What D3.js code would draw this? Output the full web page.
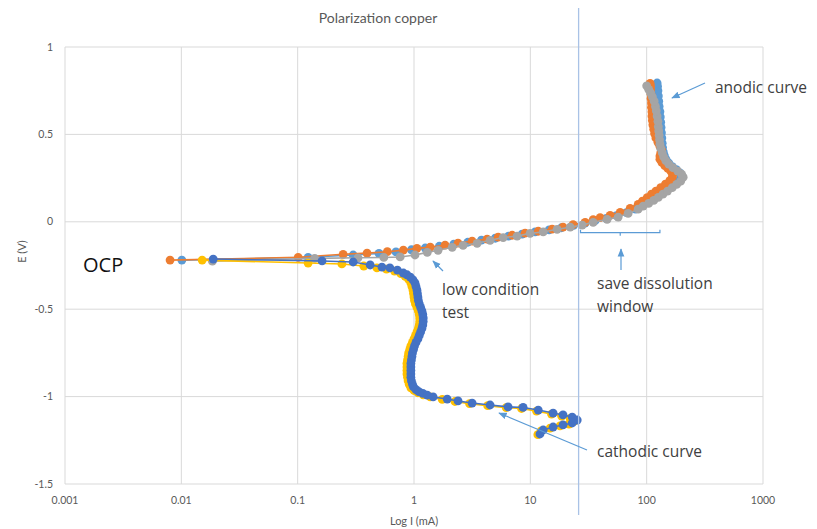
<!DOCTYPE html>
<meta charset="utf-8">
<style>
body { margin: 0; background: #fff; }
svg { font-family: Lato, "Open Sans", sans-serif; }
.grid line { stroke: #d9d9d9; stroke-width: 1px; }
.tick-label { fill: #595959; font-size: 10.5px; }
.axis-title { fill: #595959; font-size: 11px; }
.note { fill: #404040; font-size: 15.5px; font-family: "Open Sans", sans-serif; }
.pointer { stroke: #5b9bd5; stroke-width: 1.2px; fill: none; }
</style>
<body>
<script src="https://cdn.jsdelivr.net/npm/d3@7"></script>
<script>
// [current (mA), potential (V)]
var anodicOrange = [
  [0.0080,-0.219],[0.101,-0.203],[0.246,-0.186],[0.395,-0.179],[0.59,-0.171],[0.81,-0.162],
  [1.06,-0.152],[1.38,-0.145],[1.85,-0.134],[2.39,-0.122],[3.16,-0.111],[4.25,-0.099],
  [5.29,-0.088],[6.98,-0.077],[9.02,-0.065],[11.7,-0.054],[15.4,-0.042],[19.1,-0.031],
  [23.3,-0.016],[29.6,-0.003],[34.7,0.012],[39.8,0.024],[48.5,0.037],[59.2,0.054],
  [72.1,0.077],[84.5,0.100],[92,0.118],[101,0.138],[110,0.158],[120,0.176],[132,0.196],
  [145,0.216],[158,0.236],[166,0.255],[168,0.270],[162,0.288],[152,0.305],[143,0.322],
  [135,0.340],[130,0.358],[130,0.376],[132,0.394],[134,0.412],[130,0.432],[125,0.455],
  [120,0.480],[117,0.505],[115,0.530],[113,0.555],[112,0.580],[111,0.605],[111,0.630],
  [110,0.655],[110,0.680],[109,0.705],[109,0.730],[108,0.755],[108,0.775],[107,0.792]
];
var anodicBlue = [
  [0.0101,-0.219],[0.123,-0.203],[0.30,-0.190],[0.50,-0.181],[0.70,-0.172],[0.95,-0.160],
  [1.25,-0.150],[1.65,-0.140],[2.2,-0.128],[2.9,-0.117],[3.8,-0.105],[5.0,-0.094],
  [6.5,-0.082],[8.5,-0.070],[11.0,-0.058],[14.5,-0.046],[18.5,-0.034],[23.5,-0.021],
  [29.5,-0.008],[36,0.006],[45,0.020],[55,0.035],[67,0.053],[80,0.073],[92,0.095],
  [104,0.118],[117,0.140],[131,0.163],[147,0.186],[165,0.208],[182,0.228],[195,0.246],
  [200,0.262],[193,0.280],[180,0.298],[166,0.316],[155,0.336],[147,0.356],[142,0.378],
  [139,0.400],[137,0.425],[136,0.450],[135,0.480],[134,0.510],[133,0.540],[132,0.570],
  [131,0.600],[130,0.630],[128,0.660],[127,0.690],[126,0.720],[125,0.750],[124,0.775],[123,0.794]
];
var anodicGrey = [
  [0.0185,-0.225],[0.14,-0.209],[0.33,-0.206],[0.55,-0.204],[0.76,-0.201],[1.02,-0.190],
  [1.30,-0.175],[1.61,-0.163],[2.13,-0.146],[2.64,-0.135],[3.49,-0.123],[4.51,-0.106],
  [5.84,-0.090],[7.70,-0.082],[9.96,-0.066],[12.9,-0.058],[17.0,-0.043],[22.0,-0.031],
  [27.9,-0.019],[34.7,-0.003],[45.7,0.014],[56.9,0.027],[69.3,0.048],[84.5,0.072],
  [93.3,0.090],[104,0.105],[115,0.122],[126,0.140],[138,0.158],[151,0.176],[166,0.196],
  [181,0.214],[196,0.232],[206,0.255],[200,0.272],[185,0.290],[168,0.310],[155,0.330],
  [146,0.350],[140,0.372],[136,0.395],[132,0.420],[130,0.445],[129,0.470],[128,0.495],
  [127,0.520],[126,0.545],[125,0.575],[123,0.605],[121,0.635],[119,0.660],[116,0.690],
  [112,0.715],[108,0.738],[104,0.758],[100,0.778]
];
var cathodicYellow = [
  [0.0151,-0.219],[0.123,-0.236],[0.24,-0.241],[0.37,-0.253],[0.48,-0.264],[0.58,-0.271],
  [0.68,-0.282],[0.77,-0.297],[0.84,-0.312],[0.90,-0.330],[0.94,-0.350],[0.96,-0.370],
  [0.98,-0.390],[0.99,-0.410],[1.00,-0.430],[1.01,-0.450],[1.03,-0.470],[1.06,-0.490],
  [1.09,-0.510],[1.11,-0.530],[1.12,-0.550],[1.12,-0.570],[1.11,-0.590],[1.09,-0.610],
  [1.06,-0.630],[1.03,-0.650],[1.00,-0.670],[0.97,-0.690],[0.94,-0.710],[0.92,-0.730],
  [0.90,-0.750],[0.89,-0.770],[0.88,-0.790],[0.87,-0.810],[0.87,-0.830],[0.87,-0.850],
  [0.87,-0.870],[0.88,-0.890],[0.89,-0.910],[0.91,-0.930],[0.94,-0.950],[1.00,-0.965],
  [1.08,-0.978],[1.20,-0.990],[1.38,-1.002],[1.75,-1.016],[2.25,-1.028],[3.0,-1.040],
  [4.3,-1.052],[6.2,-1.063],[8.4,-1.068],[11.3,-1.083],[15.2,-1.100],[18.6,-1.112],
  [22.0,-1.125],[23.8,-1.140],[21.5,-1.157],[18.0,-1.168],[14.8,-1.180],[12.4,-1.196],[11.6,-1.218]
];
var cathodicBlue = [
  [0.0188,-0.213],[0.162,-0.224],[0.30,-0.230],[0.42,-0.247],[0.53,-0.259],[0.62,-0.264],
  [0.72,-0.276],[0.81,-0.293],[0.87,-0.303],[0.93,-0.316],[0.98,-0.332],[1.02,-0.350],
  [1.04,-0.370],[1.06,-0.390],[1.07,-0.410],[1.08,-0.430],[1.09,-0.450],[1.11,-0.470],
  [1.14,-0.490],[1.17,-0.510],[1.19,-0.530],[1.20,-0.550],[1.20,-0.570],[1.19,-0.590],
  [1.17,-0.610],[1.14,-0.630],[1.11,-0.650],[1.08,-0.670],[1.04,-0.690],[1.01,-0.710],
  [0.99,-0.730],[0.97,-0.750],[0.96,-0.770],[0.95,-0.790],[0.94,-0.810],[0.94,-0.830],
  [0.94,-0.850],[0.94,-0.870],[0.94,-0.890],[0.95,-0.910],[0.97,-0.930],[0.99,-0.945],
  [1.04,-0.960],[1.10,-0.972],[1.19,-0.982],[1.30,-0.992],[1.46,-1.002],[1.93,-1.014],
  [2.39,-1.025],[3.16,-1.037],[4.51,-1.048],[6.44,-1.059],[8.67,-1.062],[11.7,-1.077],
  [15.7,-1.094],[19.1,-1.105],[22.9,-1.117],[25.3,-1.134],[22.9,-1.151],[19.1,-1.162],
  [15.7,-1.174],[12.9,-1.191],[12.1,-1.214]
];

var xTicks = [0.001, 0.01, 0.1, 1, 10, 100, 1000];
var yTicks = [1, 0.5, 0, -0.5, -1, -1.5];
var limitCurrent = 26;          // vertical marker line (mA)
var windowRange = [27, 130];    // save dissolution window (mA)
var windowE = -0.062;

var series = [
  { data: anodicBlue, color: "#5b9bd5" },
  { data: anodicOrange, color: "#ed7d31" },
  { data: anodicGrey, color: "#a5a5a5" },
  { data: cathodicYellow, color: "#ffc000" },
  { data: cathodicBlue, color: "#4472c4" }
];

var W = 817, H = 529;
var margin = {top: 47, right: 54, bottom: 45, left: 65},
    width = W - margin.left - margin.right,
    height = H - margin.top - margin.bottom;

var svg = d3.select("body").append("svg")
    .attr("width", W)
    .attr("height", H);

var g = svg.append("g")
    .attr("transform", "translate(" + margin.left + "," + margin.top + ")");

var x = d3.scaleLog().domain([0.001, 1000]).range([0, width]);
var y = d3.scaleLinear().domain([-1.5, 1]).range([height, 0]);

// grid
var grid = g.append("g").attr("class", "grid");
grid.selectAll(".gx").data(xTicks).enter().append("line")
    .attr("x1", function(d) { return x(d); }).attr("x2", function(d) { return x(d); })
    .attr("y1", 0).attr("y2", height);
grid.selectAll(".gy").data(yTicks).enter().append("line")
    .attr("x1", 0).attr("x2", width)
    .attr("y1", function(d) { return y(d); }).attr("y2", function(d) { return y(d); });

// tick labels
g.selectAll(".xl").data(xTicks).enter().append("text")
    .attr("class", "tick-label")
    .attr("x", function(d) { return x(d); })
    .attr("y", height + 20)
    .attr("text-anchor", "middle")
    .text(function(d) { return d3.format("~g")(d); });
g.selectAll(".yl").data(yTicks).enter().append("text")
    .attr("class", "tick-label")
    .attr("x", -12)
    .attr("y", function(d) { return y(d); })
    .attr("dy", "0.35em")
    .attr("text-anchor", "end")
    .text(function(d) { return d; });

svg.append("text")
    .attr("class", "axis-title")
    .attr("transform", "translate(26," + (margin.top + y(-0.17)) + ") rotate(-90)")
    .attr("text-anchor", "middle")
    .text("E (V)");
svg.append("text")
    .attr("class", "axis-title")
    .attr("x", margin.left + x(1))
    .attr("y", 525)
    .attr("text-anchor", "middle")
    .text("Log I (mA)");
svg.append("text")
    .attr("x", 378)
    .attr("y", 23)
    .attr("text-anchor", "middle")
    .style("fill", "#595959")
    .style("font-size", "14px")
    .text("Polarization copper");

// series
var line = d3.line()
    .x(function(d) { return x(d[0]); })
    .y(function(d) { return y(d[1]); });

series.forEach(function(s) {
  var sg = g.append("g");
  sg.append("path")
      .attr("d", line(s.data))
      .attr("fill", "none")
      .attr("stroke", s.color)
      .attr("stroke-width", 1.6);
  sg.selectAll("circle").data(s.data).enter().append("circle")
      .attr("cx", function(d) { return x(d[0]); })
      .attr("cy", function(d) { return y(d[1]); })
      .attr("r", 4.4)
      .attr("fill", s.color);
});

// vertical marker
g.append("line")
    .attr("x1", x(limitCurrent)).attr("x2", x(limitCurrent))
    .attr("y1", 8 - margin.top).attr("y2", 515 - margin.top)
    .attr("stroke", "#a9c2e6").attr("stroke-width", 1.3);

// dissolution window bracket
var bx0 = x(windowRange[0]), bx1 = x(windowRange[1]), by = y(windowE);
var bmid = (bx0 + bx1) / 2;
g.append("path")
    .attr("class", "pointer")
    .attr("stroke-width", 1)
    .attr("d", "M" + bx0 + "," + (by - 3) + "V" + by + "H" + bx1 + "V" + (by - 3) +
               "M" + bmid + "," + by + "V" + (by + 3));

// arrows
svg.append("defs").append("marker")
    .attr("id", "head")
    .attr("viewBox", "0 0 10 10")
    .attr("refX", 9).attr("refY", 5)
    .attr("markerWidth", 7).attr("markerHeight", 7)
    .attr("orient", "auto")
  .append("path")
    .attr("d", "M0,1L10,5L0,9Z")
    .attr("fill", "#5b9bd5");

var arrows = [
  [705, 83, 672, 98],
  [621, 270, 621, 249],
  [443, 271, 433, 261],
  [587, 450, 499, 413]
];
svg.selectAll(".arrow").data(arrows).enter().append("line")
    .attr("class", "pointer")
    .attr("x1", function(d) { return d[0]; }).attr("y1", function(d) { return d[1]; })
    .attr("x2", function(d) { return d[2]; }).attr("y2", function(d) { return d[3]; })
    .attr("marker-end", "url(#head)");

var notes = [
  ["anodic curve", 715, 93],
  ["save dissolution", 597, 289],
  ["window", 597, 312],
  ["low condition", 442, 295],
  ["test", 442, 318],
  ["cathodic curve", 597, 457]
];
svg.selectAll(".note").data(notes).enter().append("text")
    .attr("class", "note")
    .attr("x", function(d) { return d[1]; })
    .attr("y", function(d) { return d[2]; })
    .text(function(d) { return d[0]; });

svg.append("text")
    .attr("x", 83).attr("y", 272)
    .style("fill", "#111")
    .style("font-family", "'Open Sans', sans-serif")
    .style("font-size", "20px")
    .text("OCP");
</script>
